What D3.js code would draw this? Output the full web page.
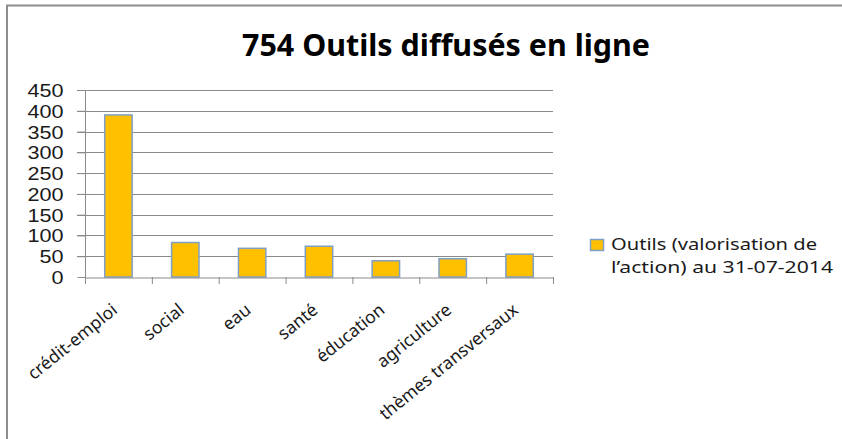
<!DOCTYPE html>
<html><head><meta charset="utf-8">
<script src="https://cdn.jsdelivr.net/npm/d3@7"></script>
<style>
html,body{margin:0;padding:0;background:#fff;}
svg{display:block;font-family:"Noto Sans","Open Sans",sans-serif;}
</style></head>
<body><svg id="c" width="842" height="439"></svg>
<script>
const title = "754 Outils diffusés en ligne";
const categories = ["crédit-emploi","social","eau","santé","éducation","agriculture","thèmes transversaux"];
const values = [390, 83, 69, 74, 39, 44, 55];
const yTicks = [0,50,100,150,200,250,300,350,400,450];
const legendLines = ["Outils (valorisation de","l’action) au 31-07-2014"];

const svg = d3.select("#c");
function stretch(sel, k){
  sel.each(function(){
    const L = this.getComputedTextLength();
    d3.select(this).attr("textLength", L*k).attr("lengthAdjust","spacingAndGlyphs");
  });
}
// outer border (top and left only visible)
svg.append("line").attr("x1",6).attr("x2",842).attr("y1",5.5).attr("y2",5.5).attr("stroke","#8c8c8c").attr("stroke-width",2);
svg.append("line").attr("x1",7).attr("x2",7).attr("y1",5).attr("y2",439).attr("stroke","#8c8c8c").attr("stroke-width",2);

const x = d3.scaleBand().domain(categories).range([85,553]).paddingInner(0.59).paddingOuter(0.295);
const xb = d3.scaleBand().domain(categories).range([85,553]);
const y = d3.scaleLinear().domain([0,450]).range([277,90]);

// gridlines
svg.append("g").selectAll("line").data(yTicks.filter(d=>d>0)).join("line")
  .attr("x1",77).attr("x2",553).attr("y1",d=>Math.round(y(d))+0.5).attr("y2",d=>Math.round(y(d))+0.5)
  .attr("stroke","#8a8a8a").attr("stroke-width",1);

// y axis
const ya = svg.append("g").attr("transform","translate(85.5,0)")
  .call(d3.axisLeft(y).tickValues(yTicks).tickSize(8).tickPadding(14));
ya.select(".domain").attr("stroke","#8a8a8a").attr("d","M0,90V283");
ya.selectAll(".tick line").attr("stroke","#8a8a8a");
ya.selectAll("text").attr("font-size",18).attr("fill","#1a1a1a")
  .attr("font-family","Liberation Sans").attr("dy","0.36em");
stretch(ya.selectAll("text"), 1.2);

// bars
svg.append("g").selectAll("rect").data(values).join("rect")
  .attr("x",(d,i)=>x(categories[i])).attr("width",x.bandwidth())
  .attr("y",d=>y(d)).attr("height",d=>y(0)-y(d))
  .attr("fill","#FFC000").attr("stroke","#7f9fc6").attr("stroke-width",1.5);

// x axis
const xa = svg.append("g").attr("transform","translate(0,277.5)")
  .call(d3.axisBottom(xb).tickSize(0).tickFormat(""));
xa.select(".domain").attr("stroke","#8a8a8a");
svg.append("g").selectAll("line").data(d3.range(categories.length+1)).join("line")
  .attr("x1",i=>85+i*xb.step()+0.5).attr("x2",i=>85+i*xb.step()+0.5).attr("y1",277).attr("y2",284)
  .attr("stroke","#8a8a8a");

svg.append("g").selectAll("text").data(categories).join("text")
  .attr("transform",d=>`translate(${xb(d)+xb.bandwidth()/2},${312}) rotate(-39)`)
  .attr("text-anchor","end").attr("font-size",17.5).attr("fill","#1a1a1a")
  .text(d=>d);

// title
svg.append("text").attr("x",446).attr("y",56).attr("text-anchor","middle")
  .attr("font-size",31).attr("font-weight","bold").attr("fill","#000")
  .attr("textLength",408).attr("lengthAdjust","spacingAndGlyphs").text(title);

// legend
svg.append("rect").attr("x",590.5).attr("y",239.5).attr("width",13).attr("height",11)
  .attr("fill","#FFC000").attr("stroke","#7f9fc6").attr("stroke-width",1.5);
const legendWidths = [206, 222];
svg.append("g").selectAll("text").data(legendLines).join("text")
  .attr("x",611).attr("y",(d,i)=>250+i*23).attr("font-size",16.5).attr("fill","#1a1a1a")
  .attr("textLength",(d,i)=>legendWidths[i]).attr("lengthAdjust","spacingAndGlyphs")
  .text(d=>d);
</script></body></html>
